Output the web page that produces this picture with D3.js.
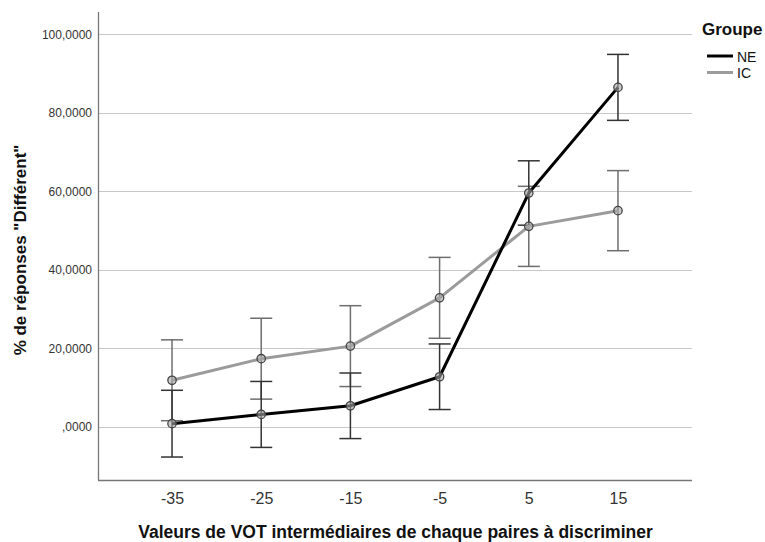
<!DOCTYPE html>
<html><head><meta charset="utf-8">
<script src="https://cdn.jsdelivr.net/npm/d3@7"></script>
<style>body{margin:0;background:#fff;} svg{display:block;font-family:"Liberation Sans",Arial,sans-serif;}</style>
</head><body>
<script>
const categories = ["-35","-25","-15","-5","5","15"];
const neMean = [0.85, 3.2, 5.4, 12.8, 59.6, 86.5];
const neErr  = [8.5, 8.4, 8.35, 8.35, 8.2, 8.4];
const icMean = [11.9, 17.4, 20.6, 32.9, 51.1, 55.1];
const icErr  = [10.3, 10.3, 10.3, 10.3, 10.2, 10.2];
const yTicks = [0, 20, 40, 60, 80, 100];
const seriesNames = ["NE", "IC"];

const W = 765, H = 542;
const svg = d3.select("body").append("svg").attr("width", W).attr("height", H);
const mLeft = 98, mRight = 692, mTop = 12, mBottom = 480;

const x = d3.scalePoint().domain(categories).range([mLeft, mRight]).padding(0.83);
const y = d3.scaleLinear().domain([-13.5, 105.7]).range([mBottom, mTop]);

const fmt = v => v === 0 ? ",0000" : d3.format(".4f")(v).replace(".", ",");

// gridlines
svg.append("g").selectAll("line").data(yTicks).join("line")
  .attr("x1", mLeft).attr("x2", mRight)
  .attr("y1", d => Math.round(y(d)) + 0.5).attr("y2", d => Math.round(y(d)) + 0.5)
  .attr("stroke", "#c8c8c8").attr("stroke-width", 1);

// y axis
const yAxis = svg.append("g").attr("transform", `translate(${mLeft},0)`)
  .call(d3.axisLeft(y).tickValues(yTicks).tickFormat(fmt).tickSize(0).tickPadding(6));
yAxis.select(".domain").remove();
yAxis.selectAll("text").attr("font-size", 12).attr("fill", "#333").attr("font-family", "Liberation Sans, Arial, sans-serif");
svg.append("line").attr("x1", mLeft + 0.5).attr("x2", mLeft + 0.5).attr("y1", mTop).attr("y2", mBottom)
  .attr("stroke", "#777").attr("stroke-width", 1.3);

// x axis
const xAxis = svg.append("g").attr("transform", `translate(0,${mBottom})`)
  .call(d3.axisBottom(x).tickSize(0));
xAxis.select(".domain").remove();
xAxis.selectAll("text").attr("y", 24).attr("dy", null).attr("font-size", 16).attr("fill", "#333")
  .attr("font-family", "Liberation Sans, Arial, sans-serif");
svg.append("line").attr("x1", mLeft).attr("x2", mRight).attr("y1", mBottom + 0.5).attr("y2", mBottom + 0.5)
  .attr("stroke", "#777").attr("stroke-width", 1.3);

// axis titles
svg.append("text").attr("x", 395.5).attr("y", 538).attr("text-anchor", "middle")
  .attr("font-size", 17.5).attr("font-weight", "bold").attr("fill", "#111")
  .text("Valeurs de VOT intermédiaires de chaque paires à discriminer");
svg.append("text").attr("transform", `translate(25.5,250) rotate(-90)`)
  .attr("text-anchor", "middle").attr("font-size", 17).attr("font-weight", "bold").attr("fill", "#111")
  .text('% de réponses "Différent"');

const series = [
  {name: seriesNames[0], mean: neMean, err: neErr, line: "#000000", bar: "#333333"},
  {name: seriesNames[1], mean: icMean, err: icErr, line: "#9b9b9b", bar: "#6e6e6e"}
];
const capW = 11;

// error bars
series.slice().reverse().forEach(s => {
  const g = svg.append("g");
  categories.forEach((c, i) => {
    const cx = x(c), hi = y(s.mean[i] + s.err[i]), lo = y(s.mean[i] - s.err[i]);
    g.append("line").attr("x1", cx).attr("x2", cx).attr("y1", hi).attr("y2", lo).attr("stroke", s.bar).attr("stroke-width", 1.5);
    g.append("line").attr("x1", cx - capW).attr("x2", cx + capW).attr("y1", hi).attr("y2", hi).attr("stroke", s.bar).attr("stroke-width", 1.5);
    g.append("line").attr("x1", cx - capW).attr("x2", cx + capW).attr("y1", lo).attr("y2", lo).attr("stroke", s.bar).attr("stroke-width", 1.5);
  });
});

// lines
const line = d3.line().x((d, i) => x(categories[i])).y(d => y(d));
series.slice().reverse().forEach(s => {
  svg.append("path").datum(s.mean).attr("d", line).attr("fill", "none")
    .attr("stroke", s.line).attr("stroke-width", 3).attr("stroke-linejoin", "round");
});

// markers
series.slice().reverse().forEach(s => {
  svg.append("g").selectAll("circle").data(s.mean).join("circle")
    .attr("cx", (d, i) => x(categories[i])).attr("cy", d => y(d)).attr("r", 4.2)
    .attr("fill", "#a8a8a8").attr("fill-opacity", 0.6).attr("stroke", "#444").attr("stroke-width", 1.3);
});

// legend
svg.append("text").attr("x", 702).attr("y", 35).attr("font-size", 17).attr("font-weight", "bold").attr("fill", "#111").text("Groupe");
series.forEach((s, i) => {
  const ly = 56 + i * 16.5;
  svg.append("line").attr("x1", 707).attr("x2", 733).attr("y1", ly).attr("y2", ly).attr("stroke", s.line).attr("stroke-width", 3);
  svg.append("text").attr("x", 737).attr("y", ly + 5.5).attr("font-size", 14).attr("fill", "#111").text(s.name);
});
</script>
</body></html>
